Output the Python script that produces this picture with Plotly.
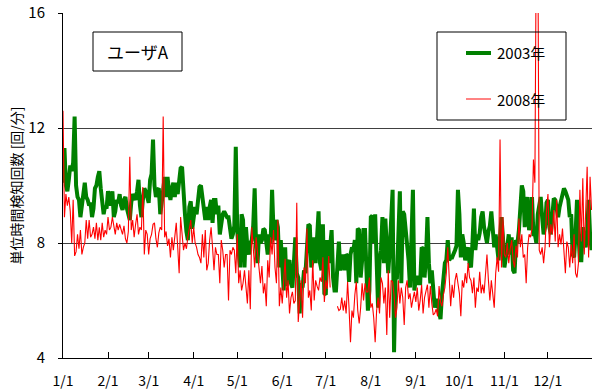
import plotly.graph_objects as go
import pandas as pd

# ---- data ----
dates = pd.date_range("2003-01-01", periods=365, freq="D")

g2003 = [
    # Jan
    10.1, 11.3, 10.0, 9.8, 10.2, 10.7, 10.5, 10.8, 12.4, 10.0,
    9.6, 9.5, 8.9, 9.4, 9.7, 10.1, 9.6, 9.5, 9.3, 9.4,
    8.9, 9.2, 9.9, 10.0, 10.3, 10.5, 9.9, 9.5, 9.0, 9.3, 9.2,
    # Feb
    9.8, 9.5, 9.3, 9.8, 8.9, 9.1, 9.5, 9.4, 9.7, 9.3,
    9.15, 9.5, 9.6, 9.2, 9.0, 8.8, 9.4, 9.7, 9.6, 9.5,
    9.8, 10.2, 9.3, 8.9, 9.5, 9.9, 9.8, 9.6,
    # Mar
    9.4, 10.2, 10.4, 11.6, 10.0, 9.6, 9.85, 9.9, 9.0, 9.4,
    9.85, 10.3, 9.6, 10.3, 9.8, 9.5, 9.9, 10.1, 9.6, 10.1,
    9.7, 10.2, 10.6, 10.65, 9.6, 9.0, 8.4, 8.1, 9.25, 9.45, 8.5,
    # Apr
    8.9, 9.25, 9.0, 9.5, 9.95, 10.0, 9.5, 9.0, 8.8, 9.25,
    8.8, 9.25, 9.5, 8.7, 9.5, 9.5, 9.0, 9.3, 8.3, 8.65,
    9.0, 9.1, 9.0, 8.9, 8.9, 8.55, 8.15, 8.3, 8.6, 11.35,
    # May
    8.45, 7.7, 7.15, 9.0, 8.8, 7.15, 8.55, 7.85, 7.6, 8.0,
    8.1, 8.6, 9.9, 7.85, 7.3, 8.3, 8.0, 8.1, 8.5, 8.45,
    8.1, 7.6, 8.3, 8.0, 9.85, 8.4, 8.1, 8.8, 8.55, 7.15, 8.1,
    # Jun
    6.95, 6.35, 7.85, 6.5, 7.3, 7.4, 6.6, 6.45, 7.3, 8.2,
    6.95, 6.8, 5.55, 6.6, 6.45, 7.05, 6.95, 7.6, 8.65, 8.6,
    7.15, 7.4, 8.2, 7.3, 8.45, 9.1, 7.3, 7.05, 8.65, 6.25,
    # Jul
    6.2, 8.1, 7.3, 8.15, 8.45, 6.8, 6.35, 6.35, 7.5, 8.05,
    7.05, 7.4, 7.6, 7.05, 7.6, 7.55, 6.65, 7.6, 7.85, 7.75,
    8.1, 6.6, 8.5, 8.45, 6.8, 7.4, 8.45, 8.45, 6.8, 5.65, 6.35,
    # Aug
    8.9, 8.95, 8.0, 9.0, 7.4, 5.75, 7.4, 7.75, 8.9, 7.3,
    8.85, 7.5, 6.95, 7.75, 8.6, 9.85, 4.2, 6.8, 6.8, 8.6,
    9.8, 6.6, 9.1, 9.0, 8.45, 7.9, 7.4, 6.45, 7.8, 9.85, 6.35,
    # Sep
    6.8, 6.8, 6.6, 6.6, 7.85, 7.8, 6.8, 7.5, 8.9, 7.3,
    6.6, 7.05, 6.3, 5.75, 6.0, 6.0, 5.6, 5.35, 6.2, 6.8,
    7.3, 7.4, 8.1, 7.4, 7.5, 7.5, 7.6, 7.75, 7.9, 9.85,
    # Oct
    9.0, 7.5, 8.3, 8.0, 7.4, 7.7, 7.85, 7.3, 7.15, 8.0,
    9.2, 7.75, 8.3, 8.1, 8.35, 8.9, 9.1, 8.55, 8.3, 8.0,
    8.4, 8.6, 9.1, 8.2, 7.85, 8.3, 7.9, 7.4, 8.2, 8.9, 8.2,
    # Nov
    7.15, 7.5, 7.85, 8.3, 7.6, 8.2, 7.05, 6.95, 8.1, 8.0,
    8.45, 9.2, 10.0, 9.8, 8.55, 9.25, 9.6, 8.45, 8.7, 9.6,
    8.3, 8.3, 8.0, 9.0, 9.3, 9.6, 8.9, 8.3, 8.55, 9.4,
    # Dec
    9.5, 8.55, 8.3, 9.2, 9.55, 9.5, 9.15, 8.9, 9.25, 9.5,
    9.7, 9.9, 9.8, 9.6, 9.5, 8.9, 9.0, 7.6, 7.5, 8.3,
    9.5, 8.3, 7.4, 7.4, 8.55, 8.1, 7.85, 8.3, 9.5, 8.3, 7.75,
]

r2008 = [
    # Jan
    12.6, 8.9, 9.7, 9.3, 9.6, 9.1, 8.0, 9.5, 7.55, 7.7,
    8.3, 7.8, 8.45, 7.6, 7.85, 8.0, 8.8, 8.15, 8.8, 8.2,
    8.3, 8.55, 8.15, 8.7, 8.1, 8.55, 8.1, 8.7, 8.2, 8.45, 8.3,
    # Feb
    8.9, 8.45, 8.55, 8.9, 8.65, 8.3, 8.7, 8.45, 8.65, 8.45,
    8.3, 8.6, 8.15, 8.0, 8.4, 11.0, 8.45, 8.8, 8.2, 8.65,
    9.0, 8.3, 8.55, 8.45, 9.95, 7.6, 8.45, 8.3,
    # Mar
    7.6, 8.15, 8.3, 8.65, 8.7, 8.15, 7.85, 8.35, 8.55, 8.45,
    12.4, 8.2, 8.4, 7.9, 8.15, 7.5, 8.2, 7.75, 8.2, 8.7,
    7.85, 6.95, 8.9, 8.3, 7.75, 8.0, 7.8, 8.2, 8.45, 8.8, 8.0,
    # Apr
    8.55, 8.0, 7.85, 7.6, 7.5, 7.3, 8.3, 7.5, 8.45, 7.05,
    7.3, 8.1, 8.55, 7.85, 7.05, 7.85, 7.6, 7.6, 6.6, 8.1,
    7.75, 7.15, 7.6, 7.6, 6.0, 7.75, 7.6, 7.85, 7.75, 6.95,
    # May
    8.3, 6.6, 7.05, 6.35, 6.6, 7.05, 6.3, 5.9, 7.05, 5.7,
    8.55, 7.8, 7.15, 8.2, 7.6, 7.3, 6.6, 7.2, 6.25, 6.6,
    5.8, 7.4, 6.8, 8.2, 7.6, 8.45, 7.15, 6.6, 8.8, 5.8, 6.45,
    # Jun
    5.9, 6.6, 7.45, 6.1, 6.7, 5.55, 6.1, 6.3, 5.9, 6.0,
    9.4, 5.25, 6.1, 6.7, 5.4, 7.15, 6.6, 8.5, 6.1, 6.35,
    5.65, 7.4, 6.0, 6.7, 6.5, 6.35, 6.8, 6.65, 7.5, 5.95,
    # Jul
    6.7, 6.4, 7.55, 6.45, None, None, None, None, 5.8, 5.65,
    5.7, 6.1, 5.65, 6.0, 5.55, 6.65, 5.75, 4.55, 5.65, 5.4,
    6.2, 6.65, 5.65, 5.2, 5.75, 6.6, 6.0, 6.6, 6.3, 6.3, 6.8,
    # Aug
    5.75, 5.9, 5.4, 4.55, 5.65, 6.1, 5.55, 6.8, 6.6, 5.9,
    6.45, 4.8, 7.05, 5.4, 6.7, 6.65, 6.2, 5.4, 5.75, 6.7,
    5.9, 6.45, 6.1, 5.15, 6.45, 6.7, 6.05, 6.25, 5.75, 6.05, 6.3,
    # Sep
    5.95, 6.45, 5.65, 6.0, 6.55, 5.55, 6.1, 6.3, 6.55, 5.75,
    6.5, 5.9, 5.5, 5.55, 5.7, 5.45, 6.5, 5.95, 5.8, 6.2,
    6.45, 6.95, 7.85, 6.8, 5.8, 6.55, 6.1, 6.7, 6.95, 6.6,
    # Oct
    6.25, 5.45, 6.7, 6.45, 6.95, 6.6, 7.3, 6.8, 6.7, 6.25,
    6.8, 5.75, 6.45, 6.3, 7.0, 6.25, 6.55, 6.25, 6.8, 7.6,
    6.7, 6.0, 6.7, 6.2, 5.75, 6.95, 7.5, 7.0, 11.6, 7.15, 8.9,
    # Nov
    7.6, 7.5, 8.0, 7.3, 7.8, 8.1, 7.4, 7.15, 7.9, 7.5,
    8.85, 7.85, 8.3, 7.5, 7.6, 6.6, 7.85, 8.3, 8.2, 8.5,
    10.9, 10.1, 19.0, 19.0, 7.75, 7.6, 7.85, 7.3, 7.85, 9.15,
    # Dec
    9.7, 7.85, 8.65, 8.3, 9.15, 8.05, 9.5, 7.85, 8.3, 7.95,
    8.5, 7.6, 6.95, 8.05, 7.85, 7.15, 7.95, 7.3, 8.3, 6.95,
    6.8, 7.3, 9.85, 8.05, 10.25, 7.6, 9.5, 10.65, 7.5, 10.3, 9.15,
]

series_names = ["2003年", "2008年"]
month_ticks = pd.date_range("2003-01-01", periods=12, freq="MS")
month_labels = ["1/1", "2/1", "3/1", "4/1", "5/1", "6/1",
                "7/1", "8/1", "9/1", "10/1", "11/1", "12/1"]
y_ticks = [4, 8, 12, 16]
y_title = "単位時間検知回数 [回/分]"
box_label = "ユーザA"

# ---- figure ----
W, H = 592, 389
ML, MR, MT, MB = 63, 0, 13, 31
PW, PH = W - ML - MR, H - MT - MB
FONT = "Noto Sans CJK JP"

def px(x):
    return (x - ML) / PW

def py(y):
    return (H - MB - y) / PH

GREEN = "#008000"
RED = "#FF0000"

fig = go.Figure()
fig.add_trace(go.Scatter(x=dates, y=g2003, mode="lines", name=series_names[0],
                         line=dict(color=GREEN, width=4), showlegend=False))
fig.add_trace(go.Scatter(x=dates, y=r2008, mode="lines", name=series_names[1],
                         line=dict(color=RED, width=1.1), connectgaps=False,
                         showlegend=False))

fig.update_layout(
    width=W, height=H,
    margin=dict(l=ML, r=MR, t=MT, b=MB, autoexpand=False),
    paper_bgcolor="white", plot_bgcolor="white",
    font=dict(family=FONT, color="black", size=14),
    xaxis=dict(
        type="date",
        range=["2003-01-01", "2003-12-31 08:00"],
        tickvals=month_ticks, ticktext=month_labels,
        ticks="inside", ticklen=6, tickcolor="black", tickwidth=1,
        showline=True, linecolor="black", linewidth=1,
        showgrid=False, zeroline=False,
        tickfont=dict(family=FONT, size=14, color="black"),
        ticklabelstandoff=10,
    ),
    yaxis=dict(
        range=[4, 16], tickvals=y_ticks,
        ticks="outside", ticklen=4, tickcolor="black", tickwidth=1,
        showline=True, linecolor="black", linewidth=1,
        showgrid=True, gridcolor="#404040", gridwidth=1,
        zeroline=False,
        tickfont=dict(family=FONT, size=15, color="black"),
        ticklabelstandoff=10,
    ),
    shapes=[
        # label box
        dict(type="rect", xref="paper", yref="paper",
             x0=px(93), x1=px(182), y0=py(71), y1=py(32),
             line=dict(color="black", width=1), fillcolor="white", layer="above"),
        # legend box (transparent: the 2008 spike shows through it)
        dict(type="rect", xref="paper", yref="paper",
             x0=px(437), x1=px(566), y0=py(120), y1=py(32),
             line=dict(color="black", width=1), fillcolor="rgba(0,0,0,0)",
             layer="above"),
        dict(type="line", xref="paper", yref="paper",
             x0=px(466), x1=px(491), y0=py(53), y1=py(53),
             line=dict(color=GREEN, width=4), layer="above"),
        dict(type="line", xref="paper", yref="paper",
             x0=px(466), x1=px(491), y0=py(99), y1=py(99),
             line=dict(color="#FF5A5A", width=1.5), layer="above"),
    ],
    annotations=[
        dict(text=box_label, xref="paper", yref="paper",
             x=px(137.5), y=py(51.5), xanchor="center", yanchor="middle",
             showarrow=False, font=dict(family=FONT, size=17, color="black")),
        dict(text=series_names[0], xref="paper", yref="paper",
             x=px(495), y=py(53), xanchor="left", yanchor="middle",
             showarrow=False, font=dict(family=FONT, size=15, color="black")),
        dict(text=series_names[1], xref="paper", yref="paper",
             x=px(495), y=py(99), xanchor="left", yanchor="middle",
             showarrow=False, font=dict(family=FONT, size=15, color="black")),
        dict(text=y_title, xref="paper", yref="paper",
             x=px(15), y=0.5, xanchor="center", yanchor="middle",
             textangle=-90, showarrow=False,
             font=dict(family=FONT, size=14, color="black")),
    ],
)

fig.write_html("out.html")
